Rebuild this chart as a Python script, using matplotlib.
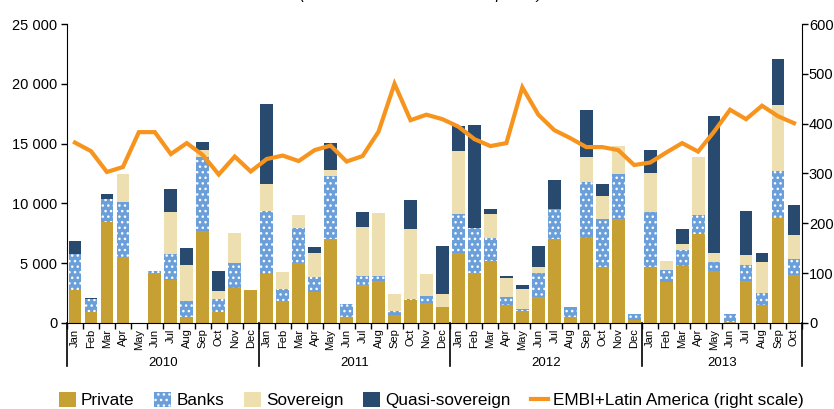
import numpy as np
import matplotlib.pyplot as plt
from matplotlib.ticker import FuncFormatter

plt.rcParams['font.family'] = ['Liberation Sans', 'DejaVu Sans']
plt.rcParams['hatch.linewidth'] = 1.0

# monthly issuance, millions of dollars (Jan 2010 - Oct 2013)
months = ['Jan', 'Feb', 'Mar', 'Apr', 'May', 'Jun', 'Jul', 'Aug', 'Sep', 'Oct', 'Nov', 'Dec'] * 3 + \
         ['Jan', 'Feb', 'Mar', 'Apr', 'May', 'Jun', 'Jul', 'Aug', 'Sep', 'Oct']
years = ['2010', '2011', '2012', '2013']
year_len = [12, 12, 12, 10]

private = [2780, 890, 8440, 5480, 0, 4180, 3620, 500, 7710, 890, 2900, 2760,
           4060, 1810, 4980, 2560, 6990, 530, 3150, 3480, 670, 1890, 1640, 1340,
           5850, 4180, 5210, 1500, 1000, 2140, 7040, 500, 7070, 4680, 8710, 250,
           4680, 3400, 4730, 7460, 4340, 80, 3540, 1530, 8740, 4010]
banks = [3010, 1110, 1920, 4600, 0, 160, 2140, 1310, 6210, 1140, 2110, 0,
         5320, 1030, 2950, 1280, 5340, 1080, 800, 470, 360, 110, 610, 0,
         3250, 3730, 1860, 640, 140, 2040, 2510, 860, 4760, 3980, 3710, 530,
         4560, 1000, 1340, 1560, 750, 640, 1300, 1000, 4010, 1310]
sovereign = [0, 0, 0, 2340, 0, 0, 3480, 3010, 560, 610, 2510, 0,
             2230, 1390, 1060, 2010, 480, 0, 4070, 5210, 1360, 5850, 1810, 1050,
             5320, 0, 2010, 1650, 1700, 500, 0, 0, 2060, 1970, 2340, 0,
             3290, 750, 530, 4900, 760, 0, 810, 2540, 5510, 2000]
quasi = [1060, 100, 440, 0, 0, 0, 1980, 1420, 690, 1730, 0, 0,
         6710, 0, 0, 500, 2220, 0, 1220, 0, 0, 2420, 0, 4070,
         2060, 8630, 470, 160, 360, 1750, 2390, 0, 3930, 1010, 80, 0,
         1970, 0, 1280, 0, 11470, 0, 3700, 780, 3820, 2560]
# EMBI+ Latin America spread, basis points
embi = [362, 345, 303, 313, 383, 383, 339, 361, 337, 298, 334, 304,
        329, 336, 325, 347, 356, 324, 335, 384, 480, 407, 418, 409,
        394, 369, 355, 361, 473, 418, 387, 371, 353, 353, 347, 317,
        322, 342, 361, 344, 384, 428, 409, 436, 415, 401]

c_priv = '#C7A033'
c_bank = '#6B9FD9'
c_sov = '#EDDFB0'
c_quasi = '#284A6E'
c_line = '#F7941D'

fig = plt.figure(figsize=(8.34, 4.09), dpi=100)
ax = fig.add_axes([0.0803, 0.2103, 0.8813, 0.7310])

x = np.arange(len(months))
w = 0.8
b1 = np.array(private)
b2 = b1 + np.array(banks)
b3 = b2 + np.array(sovereign)

ax.bar(x, private, w, color=c_priv, linewidth=0, label='Private')
ax.bar(x, banks, w, bottom=b1, color=c_bank, edgecolor='white', hatch='...',
       linewidth=0, label='Banks')
ax.bar(x, sovereign, w, bottom=b2, color=c_sov, linewidth=0, label='Sovereign')
ax.bar(x, quasi, w, bottom=b3, color=c_quasi, linewidth=0, label='Quasi-sovereign')

ax.set_xlim(-0.5, len(months) - 0.5)
ax.set_ylim(0, 25000)
ax.set_yticks(np.arange(0, 25001, 5000))
ax.yaxis.set_major_formatter(FuncFormatter(lambda v, p: f'{int(v):,}'.replace(',', ' ')))
ax.tick_params(axis='y', direction='out', length=4, width=1, labelsize=10.5, pad=3)

ax.set_xticks(x)
ax.set_xticklabels(months, rotation=90, fontsize=8)
ax.set_xticks(np.arange(-0.5, len(months), 1), minor=True)
ax.tick_params(axis='x', which='major', length=0, pad=4)
ax.tick_params(axis='x', which='minor', direction='out', length=4, width=1)

ax.spines['top'].set_visible(False)
ax.spines['right'].set_visible(False)

# year separators and labels
trans = ax.get_xaxis_transform()
edges = np.concatenate([[0], np.cumsum(year_len)]) - 0.5
for e in edges:
    ax.plot([e, e], [0, -0.145], color='black', lw=1.2, transform=trans, clip_on=False)
for i, yr in enumerate(years):
    ax.text((edges[i] + edges[i + 1]) / 2, -0.135, yr, transform=trans,
            ha='center', va='center', fontsize=9.5)

ax2 = ax.twinx()
ax2.plot(x, embi, color=c_line, lw=3, label='EMBI+Latin America (right scale)',
         solid_joinstyle='miter')
ax2.set_ylim(0, 600)
ax2.set_yticks(np.arange(0, 601, 100))
ax2.tick_params(axis='y', direction='out', length=4, width=1, labelsize=10.5, pad=1)
ax2.spines['top'].set_visible(False)
ax2.spines['left'].set_visible(False)
ax2.spines['bottom'].set_visible(False)

h1, l1 = ax.get_legend_handles_labels()
h2, l2 = ax2.get_legend_handles_labels()
fig.legend(h1 + h2, l1 + l2, loc='center', bbox_to_anchor=(0.517, 0.022), ncol=5,
           frameon=False, fontsize=12.3, handlelength=1.0, handleheight=1.0,
           handletextpad=0.3, columnspacing=1.15, borderpad=0)

# title sits mostly above the cropped top edge
fig.text(0.505, 1 + 1 / 409, '(Millions of dollars and basis points)', ha='center',
         va='baseline', fontsize=11, style='italic')

fig.savefig('out.png', dpi=100)
